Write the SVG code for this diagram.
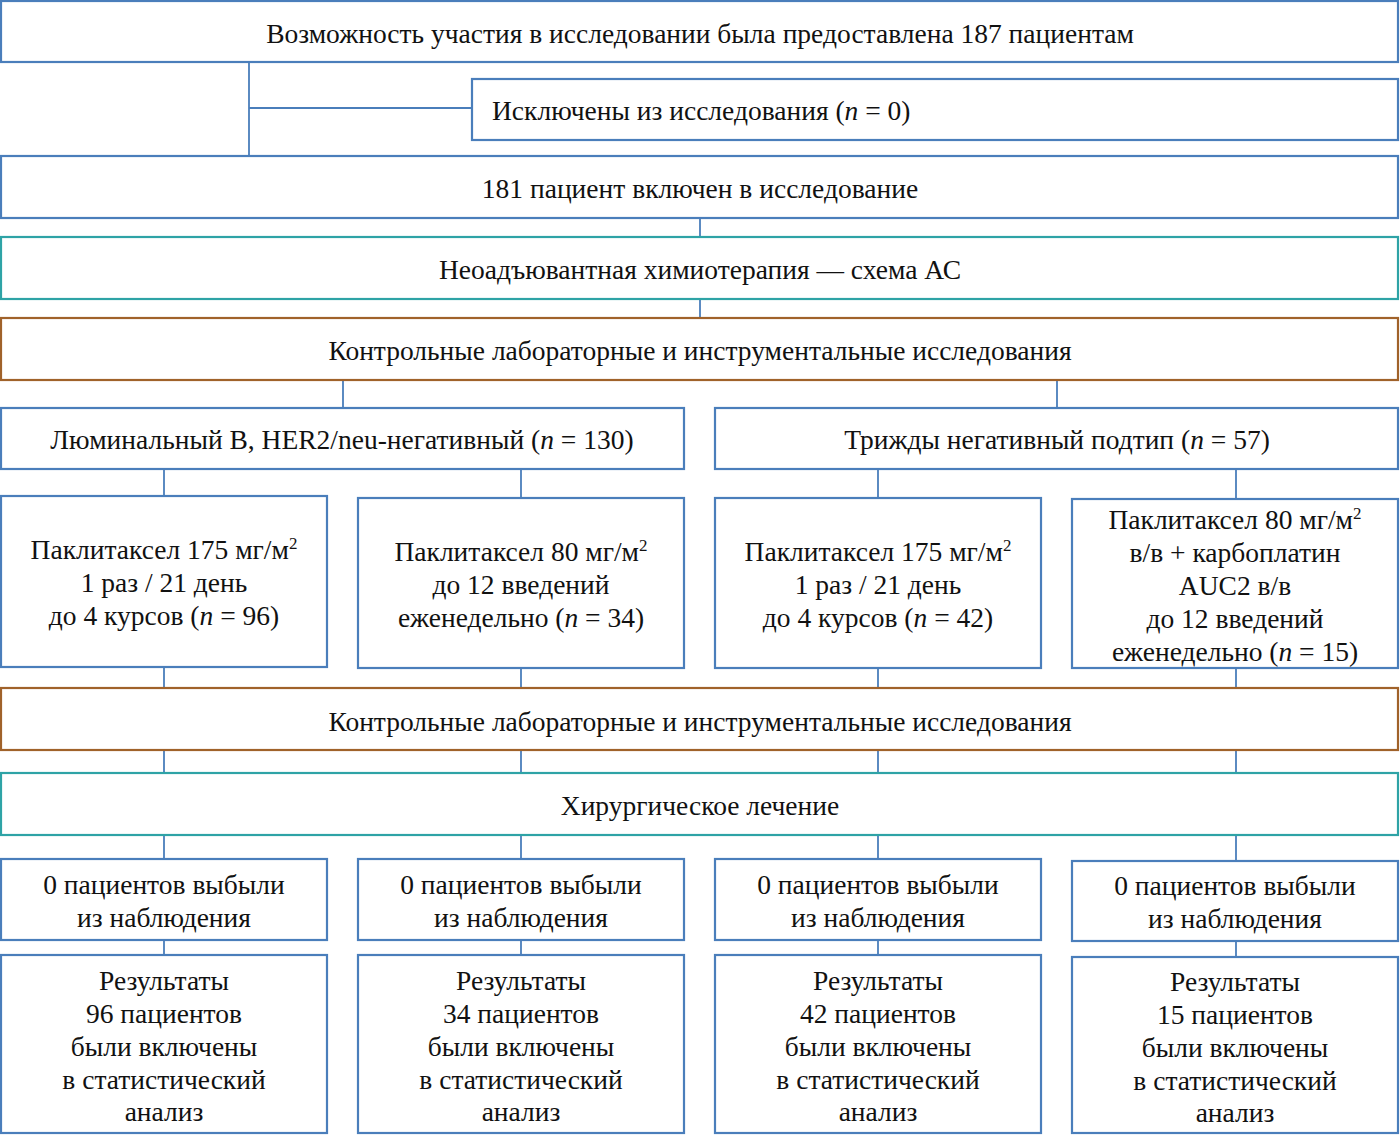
<svg xmlns="http://www.w3.org/2000/svg" width="1400" height="1136" viewBox="0 0 1400 1136">
<style>
rect{fill:#fff;stroke-width:2.2}
.b{stroke:#4a7ebb}
.t{stroke:#2ea3a6}
.r{stroke:#a0622a}
text{font-family:"Liberation Serif","Times New Roman",serif;font-size:27.5px;fill:#111;text-anchor:middle}
.l{text-anchor:start}
.i{font-style:italic}
.s{font-size:17px}
#connectors line{stroke:#4a7ebb;stroke-width:1.8}
</style>
<rect width="1400" height="1136" fill="#fff" stroke="none"/>
<g id="connectors">
<line x1="249" y1="62" x2="249" y2="156"/>
<line x1="249" y1="108" x2="472" y2="108"/>
<line x1="700" y1="218" x2="700" y2="237"/>
<line x1="700" y1="299" x2="700" y2="318"/>
<line x1="343" y1="380" x2="343" y2="408"/>
<line x1="1057" y1="380" x2="1057" y2="408"/>
<line x1="164" y1="469" x2="164" y2="496"/>
<line x1="521" y1="469" x2="521" y2="498"/>
<line x1="878" y1="469" x2="878" y2="498"/>
<line x1="1236" y1="469" x2="1236" y2="499"/>
<line x1="164" y1="667" x2="164" y2="688"/>
<line x1="521" y1="668" x2="521" y2="688"/>
<line x1="878" y1="668" x2="878" y2="688"/>
<line x1="1236" y1="668" x2="1236" y2="688"/>
<line x1="164" y1="750" x2="164" y2="773"/>
<line x1="521" y1="750" x2="521" y2="773"/>
<line x1="878" y1="750" x2="878" y2="773"/>
<line x1="1236" y1="750" x2="1236" y2="773"/>
<line x1="164" y1="835" x2="164" y2="859"/>
<line x1="521" y1="835" x2="521" y2="859"/>
<line x1="878" y1="835" x2="878" y2="859"/>
<line x1="1236" y1="835" x2="1236" y2="861"/>
<line x1="164" y1="940" x2="164" y2="955"/>
<line x1="521" y1="940" x2="521" y2="955"/>
<line x1="878" y1="940" x2="878" y2="955"/>
<line x1="1236" y1="941" x2="1236" y2="957"/>
</g>
<g id="n1"><rect class="b" x="1" y="1" width="1397" height="61"/><text x="700" y="43">Возможность участия в исследовании была предоставлена 187 пациентам</text></g>
<g id="n2"><rect class="b" x="472" y="79" width="926" height="61"/><text class="l" x="492" y="120">Исключены из исследования (<tspan class="i">n</tspan> = 0)</text></g>
<g id="n3"><rect class="b" x="1" y="156" width="1397" height="62"/><text x="700" y="198">181 пациент включен в исследование</text></g>
<g id="n4"><rect class="t" x="1" y="237" width="1397" height="62"/><text x="700" y="279">Неоадъювантная химиотерапия — схема АС</text></g>
<g id="n5"><rect class="r" x="1" y="318" width="1397" height="62"/><text x="700" y="360">Контрольные лабораторные и инструментальные исследования</text></g>
<g id="n6a"><rect class="b" x="1" y="408" width="683" height="61"/><text x="342" y="449">Люминальный В, HER2/neu-негативный (<tspan class="i">n</tspan> = 130)</text></g>
<g id="n6b"><rect class="b" x="715" y="408" width="683" height="61"/><text x="1057" y="449">Трижды негативный подтип (<tspan class="i">n</tspan> = 57)</text></g>
<g id="n7a"><rect class="b" x="1" y="496" width="326" height="171"/>
<text x="164" y="559">Паклитаксел 175 мг/м<tspan class="s" dy="-10">2</tspan></text>
<text x="164" y="592">1 раз / 21 день</text>
<text x="164" y="625">до 4 курсов (<tspan class="i">n</tspan> = 96)</text></g>
<g id="n7b"><rect class="b" x="358" y="498" width="326" height="170"/>
<text x="521" y="561">Паклитаксел 80 мг/м<tspan class="s" dy="-10">2</tspan></text>
<text x="521" y="594">до 12 введений</text>
<text x="521" y="627">еженедельно (<tspan class="i">n</tspan> = 34)</text></g>
<g id="n7c"><rect class="b" x="715" y="498" width="326" height="170"/>
<text x="878" y="561">Паклитаксел 175 мг/м<tspan class="s" dy="-10">2</tspan></text>
<text x="878" y="594">1 раз / 21 день</text>
<text x="878" y="627">до 4 курсов (<tspan class="i">n</tspan> = 42)</text></g>
<g id="n7d"><rect class="b" x="1072" y="499" width="326" height="169"/>
<text x="1235" y="529">Паклитаксел 80 мг/м<tspan class="s" dy="-10">2</tspan></text>
<text x="1235" y="562">в/в + карбоплатин</text>
<text x="1235" y="595">AUC2 в/в</text>
<text x="1235" y="628">до 12 введений</text>
<text x="1235" y="661">еженедельно (<tspan class="i">n</tspan> = 15)</text></g>
<g id="n8"><rect class="r" x="1" y="688" width="1397" height="62"/><text x="700" y="731">Контрольные лабораторные и инструментальные исследования</text></g>
<g id="n9"><rect class="t" x="1" y="773" width="1397" height="62"/><text x="700" y="815">Хирургическое лечение</text></g>
<g id="n10a"><rect class="b" x="1" y="859" width="326" height="81"/><text x="164" y="894">0 пациентов выбыли</text><text x="164" y="927">из наблюдения</text></g>
<g id="n10b"><rect class="b" x="358" y="859" width="326" height="81"/><text x="521" y="894">0 пациентов выбыли</text><text x="521" y="927">из наблюдения</text></g>
<g id="n10c"><rect class="b" x="715" y="859" width="326" height="81"/><text x="878" y="894">0 пациентов выбыли</text><text x="878" y="927">из наблюдения</text></g>
<g id="n10d"><rect class="b" x="1072" y="861" width="326" height="80"/><text x="1235" y="895">0 пациентов выбыли</text><text x="1235" y="928">из наблюдения</text></g>
<g id="n11a"><rect class="b" x="1" y="955" width="326" height="178"/>
<text x="164" y="990">Результаты</text><text x="164" y="1023">96 пациентов</text><text x="164" y="1056">были включены</text><text x="164" y="1089">в статистический</text><text x="164" y="1121">анализ</text></g>
<g id="n11b"><rect class="b" x="358" y="955" width="326" height="178"/>
<text x="521" y="990">Результаты</text><text x="521" y="1023">34 пациентов</text><text x="521" y="1056">были включены</text><text x="521" y="1089">в статистический</text><text x="521" y="1121">анализ</text></g>
<g id="n11c"><rect class="b" x="715" y="955" width="326" height="178"/>
<text x="878" y="990">Результаты</text><text x="878" y="1023">42 пациентов</text><text x="878" y="1056">были включены</text><text x="878" y="1089">в статистический</text><text x="878" y="1121">анализ</text></g>
<g id="n11d"><rect class="b" x="1072" y="957" width="326" height="176"/>
<text x="1235" y="991">Результаты</text><text x="1235" y="1024">15 пациентов</text><text x="1235" y="1057">были включены</text><text x="1235" y="1090">в статистический</text><text x="1235" y="1122">анализ</text></g>
</svg>
